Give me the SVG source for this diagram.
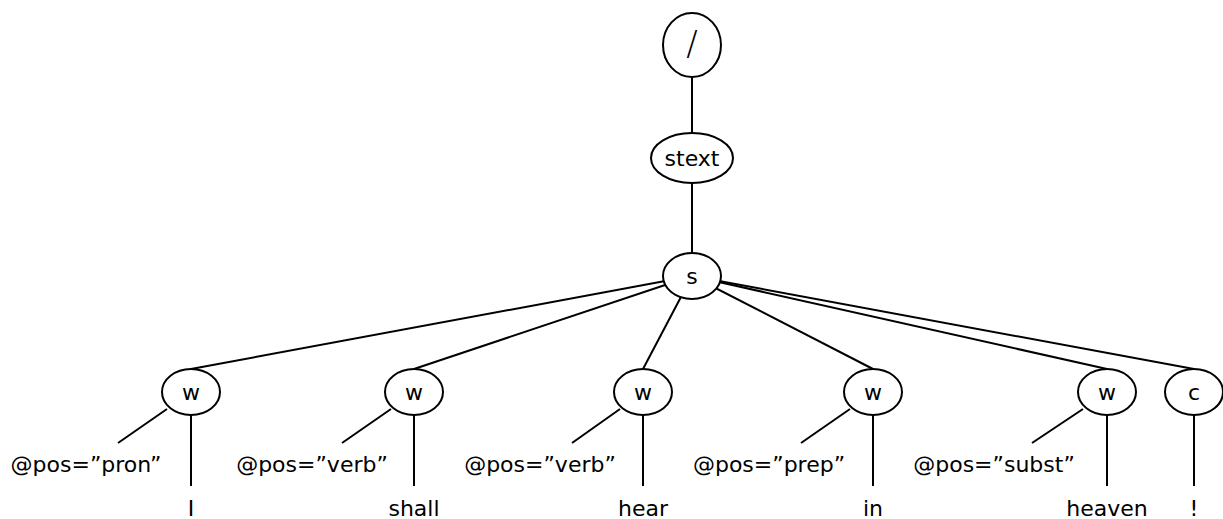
<svg xmlns="http://www.w3.org/2000/svg" width="1223" height="519" viewBox="0 0 1223 519">
<style>
.n{fill:#fff;stroke:#000;stroke-width:2}
.e line{stroke:#000;stroke-width:2}
.t{font-family:"DejaVu Sans",sans-serif;font-size:22px;text-anchor:middle;fill:#000}
.a{font-family:"DejaVu Sans",sans-serif;font-size:22px;text-anchor:middle;fill:#000}
</style>
<rect width="1223" height="519" fill="#fff"/>
<g id="connectors" class="e">
<line x1="692" y1="45" x2="692" y2="158"/>
<line x1="692" y1="158" x2="692" y2="276"/>
<line x1="692" y1="276" x2="191" y2="369"/>
<line x1="692" y1="276" x2="414" y2="369"/>
<line x1="692" y1="276" x2="643" y2="369"/>
<line x1="692" y1="276" x2="873" y2="369"/>
<line x1="692" y1="276" x2="1107" y2="369"/>
<line x1="692" y1="276" x2="1194" y2="369"/>
<line x1="167" y1="409" x2="118" y2="443"/>
<line x1="391" y1="409" x2="342" y2="443"/>
<line x1="620" y1="409" x2="572" y2="443"/>
<line x1="850" y1="409" x2="801" y2="443"/>
<line x1="1083" y1="409" x2="1032" y2="443"/>
<line x1="191" y1="392" x2="191" y2="486"/>
<line x1="414" y1="392" x2="414" y2="486"/>
<line x1="643" y1="392" x2="643" y2="486"/>
<line x1="873" y1="392" x2="873" y2="486"/>
<line x1="1107" y1="392" x2="1107" y2="486"/>
<line x1="1194" y1="392" x2="1194" y2="486"/>
</g>
<g id="root"><ellipse class="n" cx="692" cy="45" rx="29" ry="32"/><text class="t" x="692" y="55" style="font-size:34px;font-weight:200">/</text></g>
<g id="stext"><ellipse class="n" cx="692" cy="158" rx="41" ry="25"/><text class="t" x="692" y="166">stext</text></g>
<g id="s"><ellipse class="n" cx="692" cy="276" rx="29" ry="23"/><text class="t" x="692" y="284">s</text></g>
<g id="w1"><ellipse class="n" cx="191" cy="392" rx="29" ry="23"/><text class="t" x="191" y="400">w</text></g>
<g id="w2"><ellipse class="n" cx="414" cy="392" rx="29" ry="23"/><text class="t" x="414" y="400">w</text></g>
<g id="w3"><ellipse class="n" cx="643" cy="392" rx="29" ry="23"/><text class="t" x="643" y="400">w</text></g>
<g id="w4"><ellipse class="n" cx="873" cy="392" rx="29" ry="23"/><text class="t" x="873" y="400">w</text></g>
<g id="w5"><ellipse class="n" cx="1107" cy="392" rx="29" ry="23"/><text class="t" x="1107" y="400">w</text></g>
<g id="c"><ellipse class="n" cx="1194" cy="392" rx="29" ry="23"/><text class="t" x="1194" y="400">c</text></g>
<g id="attr1"><text class="a" x="86" y="472">@pos=”pron”</text></g>
<g id="attr2"><text class="a" x="312" y="472">@pos=”verb”</text></g>
<g id="attr3"><text class="a" x="540" y="472">@pos=”verb”</text></g>
<g id="attr4"><text class="a" x="769" y="472">@pos=”prep”</text></g>
<g id="attr5"><text class="a" x="994" y="472">@pos=”subst”</text></g>
<g id="leaf1"><text class="t" x="191" y="516">I</text></g>
<g id="leaf2"><text class="t" x="414" y="516">shall</text></g>
<g id="leaf3"><text class="t" x="643" y="516">hear</text></g>
<g id="leaf4"><text class="t" x="873" y="516">in</text></g>
<g id="leaf5"><text class="t" x="1107" y="516">heaven</text></g>
<g id="leaf6"><text class="t" x="1194" y="516">!</text></g>
</svg>
